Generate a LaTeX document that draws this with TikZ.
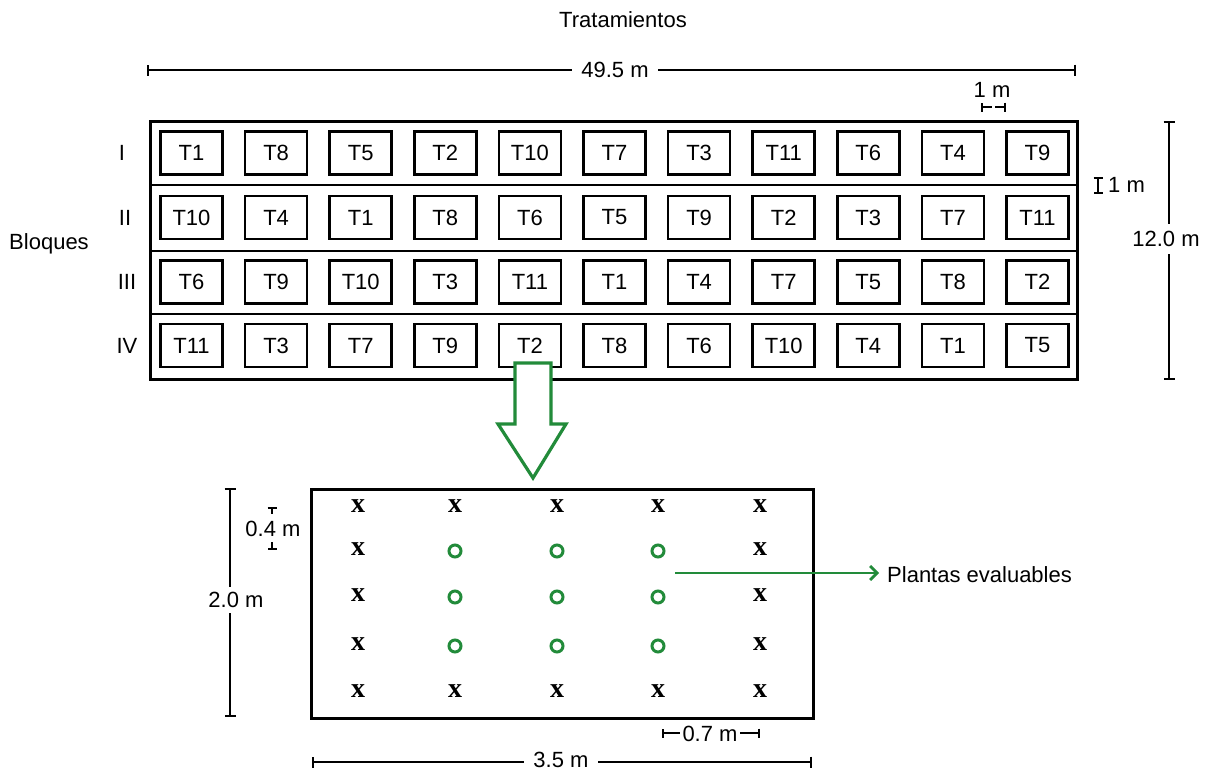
\documentclass[tikz,border=0pt]{standalone}
\usepackage{fontspec}
\setmainfont{Liberation Sans}
\newfontfamily\xfont{Liberation Serif}
\usetikzlibrary{arrows.meta}
\definecolor{plantgreen}{RGB}{34,139,58}
\begin{document}
\begin{tikzpicture}[x=1pt,y=-1pt,
  lbl/.style={font=\fontsize{22}{24}\selectfont, inner sep=1pt},
  plotbox/.style={draw, line width=2.6pt, minimum width=62pt, minimum height=43pt, inner sep=0pt, font=\fontsize{22}{24}\selectfont},
  frame/.style={draw, line width=2.6pt, inner sep=0pt},
  dim/.style={line width=1.8pt},
  bars/.style={{Bar[width=11pt]}-{Bar[width=11pt]}},
  gaplbl/.style={fill=white, inner xsep=9pt, inner ysep=2pt, font=\fontsize{22}{24}\selectfont},
  xm/.style={font=\xfont\bfseries\fontsize{28}{28}\selectfont, inner sep=0pt},
  ring/.style={draw=plantgreen, line width=3pt, circle, minimum size=12pt, inner sep=0pt},
]
\useasboundingbox (0,0) rectangle (1214,771);

% ---- field ----
\node[frame, anchor=north west, minimum width=927pt, minimum height=258pt] (field) at (149,120) {};
\foreach \yy in {185,251,314} \draw[line width=2.6pt] (field.west |- 0,\yy) -- (field.east |- 0,\yy);

\foreach \r/\yc/\rn/\rx/\lst in {
  1/153/I/122/{T1,T8,T5,T2,T10,T7,T3,T11,T6,T4,T9},
  2/217.5/II/125/{T10,T4,T1,T8,T6,T5,T9,T2,T3,T7,T11},
  3/282/III/127/{T6,T9,T10,T3,T11,T1,T4,T7,T5,T8,T2},
  4/345.5/IV/127/{T11,T3,T7,T9,T2,T8,T6,T10,T4,T1,T5}} {
  \node[lbl] (row\r) at (\rx,\yc) {\rn};
  \foreach \t [count=\c from 0] in \lst {
    \node[plotbox] (t\r-\c) at ({191.5+84.6*\c},\yc) {\t};
  }
}

\node[lbl] (trat) at (623,20) {Tratamientos};
\node[lbl] (bloq) at (49,244) {Bloques};

% top dimension 49.5 m
\coordinate (dl) at (147,70);
\coordinate (dr) at (1076,70);
\draw[dim,bars] (dl) -- (dr);
\node[gaplbl] (w495) at (615,70) {49.5 m};

% 1 m (between plots)
\node[lbl] (onem) at (992,90) {1 m};
\coordinate (a1) at (981,107); \coordinate (a2) at (992,107);
\coordinate (a3) at (995,107); \coordinate (a4) at (1006,107);
\draw[dim,{Bar[width=9pt]}-] (a1) -- (a2);
\draw[dim,-{Bar[width=9pt]}] (a3) -- (a4);

% 1 m (between blocks)
\coordinate (b1) at (1098,177); \coordinate (b2) at (1098,194);
\draw[dim,{Bar[width=9pt]}-{Bar[width=9pt]}] (b1) -- (b2);
\node[lbl, anchor=west] (onemb) at (1107,185) {1 m};

% 12.0 m
\coordinate (h1) at (1169,121); \coordinate (h2) at (1169,380);
\draw[dim,bars] (h1) -- (h2);
\node[gaplbl, inner xsep=1pt, inner ysep=7pt] (h12) at (1166,239) {12.0 m};

% ---- block arrow ----
\draw[plantgreen, line width=3.2pt, fill=white, line join=miter]
  (515,363) -- (551,363) -- (551,424) -- (566,424) -- (533,478) -- (498,424) -- (515,424) -- cycle;

% ---- plot detail ----
\node[frame, anchor=north west, minimum width=502pt, minimum height=229pt] (plot) at (310,488) {};

\foreach \xx [count=\i] in {358,455,557,658,760} {
  \foreach \yy [count=\j] in {508,551,597,646,693} {
    \pgfmathtruncatemacro{\inner}{(\i>1)&&(\i<5)&&(\j>1)&&(\j<5)}
    \ifnum\inner=1
      \node[ring] (p\i-\j) at (\xx,\yy) {};
    \else
      \node[xm] (p\i-\j) at (\xx,\yy-2) {x};
    \fi
  }
}

% Plantas evaluables
\node[lbl, anchor=west] (pe) at (886,575) {Plantas evaluables};
\coordinate (pa) at (675,573);
\draw[plantgreen, line width=2.8pt, shorten >=7pt, -{Straight Barb[length=7pt,width=14pt]}] (pa) -- (pa -| pe.west);

% 2.0 m
\coordinate (v1) at (230,488); \coordinate (v2) at (230,717);
\draw[dim,bars] (v1) -- (v2);
\node[gaplbl, inner xsep=1pt, inner ysep=5pt] (v20) at (236,600) {2.0 m};

% 0.4 m
\coordinate (c1) at (272,507); \coordinate (c2) at (272,514);
\coordinate (c3) at (272,542); \coordinate (c4) at (272,550);
\draw[dim,{Bar[width=9pt]}-] (c1) -- (c2);
\draw[dim,-{Bar[width=9pt]}] (c3) -- (c4);
\node[lbl] (c04) at (273,529) {0.4 m};

% 0.7 m
\node[lbl] (s07) at (710,734) {0.7 m};
\coordinate (e1) at (662,733); \coordinate (e2) at (680,733);
\coordinate (e3) at (740,733); \coordinate (e4) at (760,733);
\draw[dim,{Bar[width=9pt]}-] (e1) -- (e2);
\draw[dim,-{Bar[width=9pt]}] (e3) -- (e4);

% 3.5 m
\coordinate (w1) at (312,762); \coordinate (w2) at (812,762);
\draw[dim,bars] (w1) -- (w2);
\node[gaplbl] (w35) at (561,760) {3.5 m};
\end{tikzpicture}
\end{document}
